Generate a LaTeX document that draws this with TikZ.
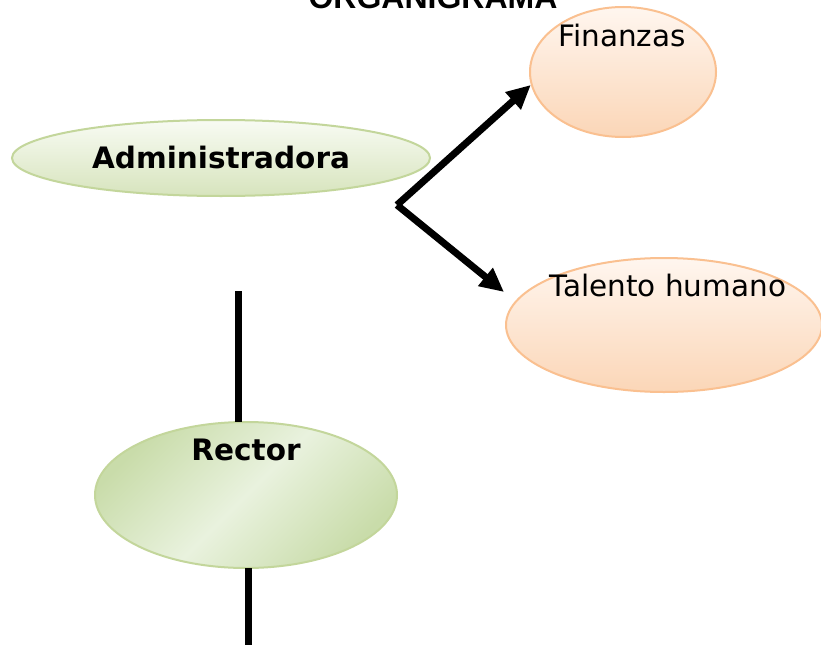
\documentclass[tikz,border=0pt]{standalone}
\usepackage{fontspec}
\setmainfont{DejaVu Sans}
\newfontfamily\titlefont{Liberation Sans}
\usetikzlibrary{shapes.geometric,arrows.meta,calc}
\definecolor{grnborder}{HTML}{C3D69B}
\definecolor{grntop}{HTML}{F8FBF3}
\definecolor{grnbot}{HTML}{D7E4BD}
\definecolor{grnedge}{HTML}{C9DCAA}
\definecolor{grnmid}{HTML}{E9F2DE}
\definecolor{pchborder}{HTML}{FAC090}
\definecolor{pchtop}{HTML}{FFF6EF}
\definecolor{pchbot}{HTML}{FBD6B7}
\tikzset{
  oval/.style={ellipse, draw, line width=2pt, inner sep=0pt},
  greenoval/.style={oval, draw=grnborder, top color=grntop, bottom color=grnbot},
  peachoval/.style={oval, draw=pchborder, top color=pchtop, bottom color=pchbot},
  lbl/.style={font=\fontsize{29.5}{34}\selectfont, inner sep=0pt},
  blbl/.style={lbl, font=\fontsize{29.5}{34}\selectfont\bfseries},
  conn/.style={line width=7pt, draw=black},
  arr/.style={conn, -{Triangle[length=24pt,width=22pt]}}
}
\begin{document}
\begin{tikzpicture}[x=1pt,y=-1pt]
\useasboundingbox (0,0) rectangle (821,645);
\fill[white] (0,0) rectangle (821,645);
% title
\node[anchor=base, inner sep=0pt, font=\titlefont\fontsize{32}{36}\selectfont\bfseries] (title) at (433,9) {ORGANIGRAMA};
% Administradora
\node[greenoval, minimum width=418pt, minimum height=76pt] (adm) at (221,158) {};
\node[blbl] (admt) at (221,158) {Administradora};
% Finanzas
\node[peachoval, minimum width=186pt, minimum height=130pt] (fin) at (623,72) {};
\node[lbl] (fint) at (622,36) {Finanzas};
% Talento humano
\node[peachoval, minimum width=316pt, minimum height=134pt] (tal) at (664,325) {};
\node[lbl] (talt) at (668,285) {Talento humano};
% Rector
\shade[left color=grnedge, right color=grnedge, middle color=grnmid, shading angle=45, draw=grnborder, line width=2pt] (246,495) ellipse [x radius=151pt, y radius=73pt];
\node[ellipse, minimum width=302pt, minimum height=146pt, inner sep=0pt] (rec) at (246,495) {};
\node[blbl] (rect) at (246,450) {Rector};
% connectors
\coordinate (j) at (397,205);
\draw[arr] (j) -- (fin.188);
\draw[arr] (j) -- ($(tal.west)+(-1,-33)$);
\coordinate (ltop) at (238,291);
\draw[conn] (ltop) -- (ltop |- rec.north);
\coordinate (lbot) at (248,645);
\draw[conn] (lbot |- rec.south) -- (lbot);
\end{tikzpicture}
\end{document}
